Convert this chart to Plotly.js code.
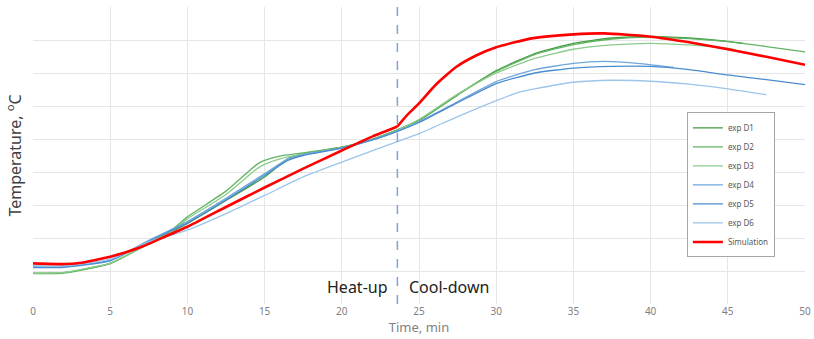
<!DOCTYPE html>
<html>
<head>
<meta charset="utf-8">
<script src="https://cdn.plot.ly/plotly-3.0.1.min.js"></script>
<style>html,body{margin:0;padding:0;background:#fff}#chart{width:814px;height:339px}</style>
</head>
<body>
<div id="chart"></div>
<script>
// ---- data (time in min, temperature in arbitrary axis units) ----
const d1Time = [0,2,5,7.5,10,12.5,15,16.5,17.5,20,22,23.6,25,27.5,30,32.5,35,37.5,40,42.5,45,46];
const d1Temp = [9.3,9.5,12.3,18.3,24.4,31.4,38.5,44.0,45.5,47.5,50.0,52.8,55.6,63.3,70.7,75.9,79.0,80.6,81.1,80.6,79.6,79.0];

const d2Time = [0,2,5,7.5,9,10,12.5,14.5,15,16,17.5,20,22,23.6,25,27.5,30,32.5,35,37.5,40,42.5,45,47.5,50];
const d2Temp = [9.2,9.4,12.2,18.4,22.5,26.4,34.2,42.3,43.5,44.8,45.8,47.5,50.0,52.8,55.8,63.5,70.5,75.6,78.6,80.3,80.9,80.4,79.5,78.0,76.4];

const d3Time = [0,2,5,7.5,9,10,12.5,14.5,15,16,17.5,20,22,23.6,25,27.5,30,32.5,35,37.5,40,42.5,45,45.5];
const d3Temp = [9.4,9.6,12.4,18.2,22.0,25.8,33.2,41.0,42.3,44.0,45.4,47.3,49.8,52.6,55.9,63.6,70.0,74.4,77.2,78.5,79.0,78.5,77.5,77.0];

const d4Time = [0,2,5,7.5,10,12.5,15,16.5,17.5,20,22,23.6,25,27.5,30,32.5,35,37,39,41.5];
const d4Temp = [11.3,11.3,13.3,19.3,25.0,32.0,39.5,44.0,45.3,47.3,49.8,52.4,55.2,61.3,67.4,71.0,72.9,73.5,73.0,71.7];

const d5Time = [0,2,5,7.5,10,12.5,15,16.5,17.5,20,22,23.6,25,27.5,30,32.5,35,37.5,40,42.5,45,47.5,50];
const d5Temp = [11.0,11.1,13.1,19.0,24.6,31.5,39.0,43.5,45.0,47.2,49.7,52.3,55.0,61.0,66.8,70.0,71.5,72.0,72.0,71.0,69.4,68.0,66.5];

const d6Time = [0,2,5,7.5,10,12.5,15,17.5,20,22,23.6,25,27.5,30,31.5,32.5,35,37.5,40,42.5,45,47.5];
const d6Temp = [11.6,11.6,13.6,18.8,22.4,27.4,32.9,38.5,43.0,46.5,49.2,51.6,56.8,61.6,64.2,65.2,67.2,67.8,67.5,66.6,65.2,63.4];

const simHeatTime = [0,2,3,5,7,8.5,10,12.5,15,17.5,20,22,23.6];
const simHeatTemp = [12.3,12.1,12.4,14.3,17.3,20.3,23.4,29.4,35.3,41.0,46.5,50.8,53.8];
const simCoolTime = [23.6,24.2,25,26.1,27.4,28.7,30,32.3,35,37,40,42.5,45,47.5,50];
const simCoolTemp = [53.8,57.1,60.8,66.5,71.8,75.3,77.8,80.5,81.7,82.0,81.0,79.3,77.2,74.9,72.5];

const seriesNames = ['exp D1','exp D2','exp D3','exp D4','exp D5','exp D6','Simulation'];
const switchTime = 23.6;   // heat-up / cool-down boundary
const phaseLabels = ['Heat-up','Cool-down'];
const xTicks = [0,5,10,15,20,25,30,35,40,45,50];

const colors = ['#3f9a3f','#62b462','#8ccb8c','#6fa6dc','#4a8cd0','#9cc5ea','#ff0000'];
const widths = [1.3,1.3,1.3,1.3,1.3,1.3,2.6];
const xs = [d1Time,d2Time,d3Time,d4Time,d5Time,d6Time];
const ys = [d1Temp,d2Temp,d3Temp,d4Temp,d5Temp,d6Temp];

const traces = xs.map((x,i)=>({
  type:'scatter', mode:'lines', name:seriesNames[i], x:x, y:ys[i],
  line:{color:colors[i], width:widths[i], shape:'spline', smoothing:0.5}
}));
// simulation: two smooth pieces joined with a corner at the phase switch
traces.push({
  type:'scatter', mode:'lines', name:seriesNames[6], legendgroup:'sim',
  x:simHeatTime, y:simHeatTemp,
  line:{color:colors[6], width:widths[6], shape:'spline', smoothing:0.5}
});
traces.push({
  type:'scatter', mode:'lines', name:seriesNames[6], legendgroup:'sim', showlegend:false,
  x:simCoolTime, y:simCoolTemp,
  line:{color:colors[6], width:widths[6], shape:'spline', smoothing:0.5}
});

const layout = {
  width:814, height:339,
  margin:{l:33, r:9, t:7, b:35, pad:0},
  paper_bgcolor:'#ffffff', plot_bgcolor:'#ffffff',
  font:{family:'Noto Sans, Open Sans, sans-serif'},
  showlegend:true,
  xaxis:{
    range:[0,50], tickvals:xTicks, showgrid:true, gridcolor:'#e6e6e6', gridwidth:1,
    zeroline:false, showline:false, ticks:'', automargin:false,
    tickfont:{size:10, color:'#7f7f7f'},
    title:{text:'Time, min', font:{size:13, color:'#7f7f7f'}, standoff:4}
  },
  yaxis:{
    range:[0,90], dtick:10, showgrid:true, gridcolor:'#e6e6e6', gridwidth:1,
    zeroline:false, showline:false, ticks:'', showticklabels:false, automargin:false,
    title:{text:'Temperature, <sup>o</sup>C', font:{size:16, color:'#404040'}, standoff:6}
  },
  legend:{
    x:0.847, y:0.645, xanchor:'left', yanchor:'top',
    bordercolor:'#a6a6a6', borderwidth:1, bgcolor:'#ffffff',
    font:{size:8, color:'#595959'}, itemwidth:30, tracegroupgap:0,
    entrywidth:70, entrywidthmode:'pixels'
  },
  shapes:[{
    type:'line', xref:'x', yref:'paper', x0:switchTime, x1:switchTime, y0:0, y1:1,
    line:{color:'#7fa3d8', width:1.5, dash:'dash'}
  }],
  annotations:[
    {xref:'x', yref:'paper', x:switchTime-0.5, y:0.058, xanchor:'right', yanchor:'middle',
     text:phaseLabels[0], showarrow:false, font:{size:16, color:'#222222'}},
    {xref:'x', yref:'paper', x:switchTime+0.6, y:0.058, xanchor:'left', yanchor:'middle',
     text:phaseLabels[1], showarrow:false, font:{size:16, color:'#222222'}}
  ]
};

Plotly.newPlot('chart', traces, layout, {displayModeBar:false, staticPlot:true});
</script>
</body>
</html>
